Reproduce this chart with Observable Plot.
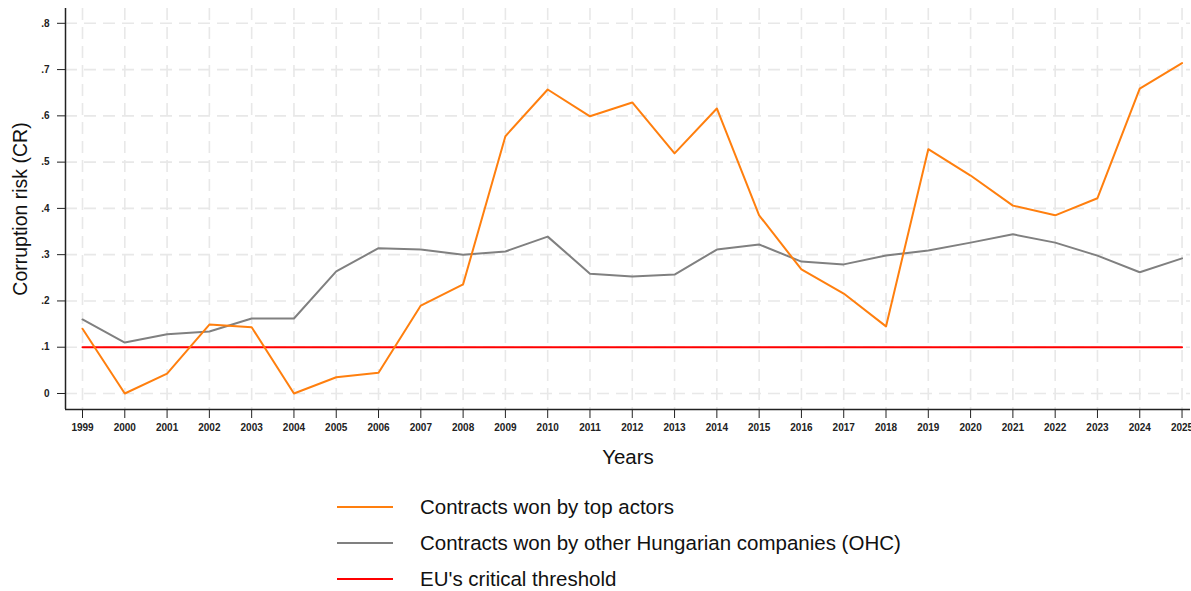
<!DOCTYPE html>
<html>
<head>
<meta charset="utf-8">
<script src="https://cdn.jsdelivr.net/npm/d3@7"></script>
<script src="https://cdn.jsdelivr.net/npm/@observablehq/plot@0.6"></script>
<style>
  body { margin: 0; background: #fff; font-family: "Liberation Sans", Arial, sans-serif; }
  #legend { padding-top: 19px; }
  .row { height: 36px; display: flex; align-items: center; }
  .sw { margin-left: 337px; width: 56px; height: 2px; }
  .lb { margin-left: 27px; font-size: 20.5px; color: #111; }
</style>
</head>
<body>
<div id="chart"></div>
<div id="legend"></div>
<script>
const years = d3.range(1999, 2026);
const topActors = [0.140, 0.000, 0.043, 0.149, 0.143, 0.000, 0.035, 0.045, 0.190, 0.236,
  0.556, 0.657, 0.599, 0.629, 0.519, 0.616, 0.385, 0.268, 0.216, 0.145,
  0.528, 0.471, 0.406, 0.385, 0.422, 0.659, 0.714];
const otherHungarian = [0.160, 0.110, 0.128, 0.134, 0.162, 0.162, 0.264, 0.314, 0.311, 0.300,
  0.307, 0.339, 0.259, 0.253, 0.257, 0.311, 0.322, 0.285, 0.279, 0.298,
  0.309, 0.326, 0.344, 0.326, 0.298, 0.262, 0.292];
const threshold = 0.1;
const yTicks = [0, 0.1, 0.2, 0.3, 0.4, 0.5, 0.6, 0.7, 0.8];
const seriesNames = ["Contracts won by top actors", "Contracts won by other Hungarian companies (OHC)", "EU's critical threshold"];
const seriesColors = ["#ff7f0e", "#808080", "#ff0000"];

const topData = years.map((y, i) => ({year: y, value: topActors[i]}));
const ohcData = years.map((y, i) => ({year: y, value: otherHungarian[i]}));
const thrData = [{year: years[0], value: threshold}, {year: years[years.length - 1], value: threshold}];

const xDom = [1998.598, 2025.2];
const yDom = [-0.0346, 0.832];
const fmtY = d => d === 0 ? "0" : d3.format(".1f")(d).replace(/^0/, "");

const chart = Plot.plot({
  width: 1191,
  height: 470,
  marginLeft: 65,
  marginRight: 1,
  marginTop: 8,
  marginBottom: 61,
  style: {fontFamily: "Liberation Sans, Arial, sans-serif", color: "#222", background: "#fff"},
  x: {domain: xDom},
  y: {domain: yDom},
  marks: [
    Plot.gridX(years, {stroke: "#e8e8e8", strokeOpacity: 1, strokeWidth: 1.6, strokeDasharray: "12,7"}),
    Plot.gridY(yTicks, {stroke: "#e8e8e8", strokeOpacity: 1, strokeWidth: 1.6, strokeDasharray: "12,7"}),
    Plot.line(thrData, {x: "year", y: "value", stroke: seriesColors[2], strokeWidth: 2}),
    Plot.line(ohcData, {x: "year", y: "value", stroke: seriesColors[1], strokeWidth: 2}),
    Plot.line(topData, {x: "year", y: "value", stroke: seriesColors[0], strokeWidth: 2}),
    Plot.ruleX([xDom[0]], {y1: yDom[0], y2: yDom[1], stroke: "#222", strokeWidth: 1.5}),
    Plot.ruleY([yDom[0]], {x1: xDom[0], x2: xDom[1], stroke: "#222", strokeWidth: 1.5}),
    Plot.axisX({ticks: years, tickFormat: d => String(d), tickSize: 9, tickPadding: 5, fontSize: 10, fontWeight: "bold", label: null, stroke: "#222"}),
    Plot.axisY({ticks: yTicks, tickFormat: fmtY, tickSize: 8, tickPadding: 8, fontSize: 10, fontWeight: "bold", label: null, stroke: "#222"}),
    Plot.text(["Years"], {frameAnchor: "bottom", dy: 48, lineAnchor: "middle", fontSize: 20.5, fill: "#111"}),
    Plot.text(["Corruption risk (CR)"], {frameAnchor: "left", dx: -45, rotate: -90, lineAnchor: "middle", textAnchor: "middle", fontSize: 19.5, fill: "#111"})
  ]
});
document.getElementById("chart").appendChild(chart);

const legend = document.getElementById("legend");
seriesNames.forEach((name, i) => {
  const row = document.createElement("div");
  row.className = "row";
  row.innerHTML = `<div class="sw" style="background:${seriesColors[i]}"></div><div class="lb">${name}</div>`;
  legend.appendChild(row);
});
</script>
</body>
</html>
